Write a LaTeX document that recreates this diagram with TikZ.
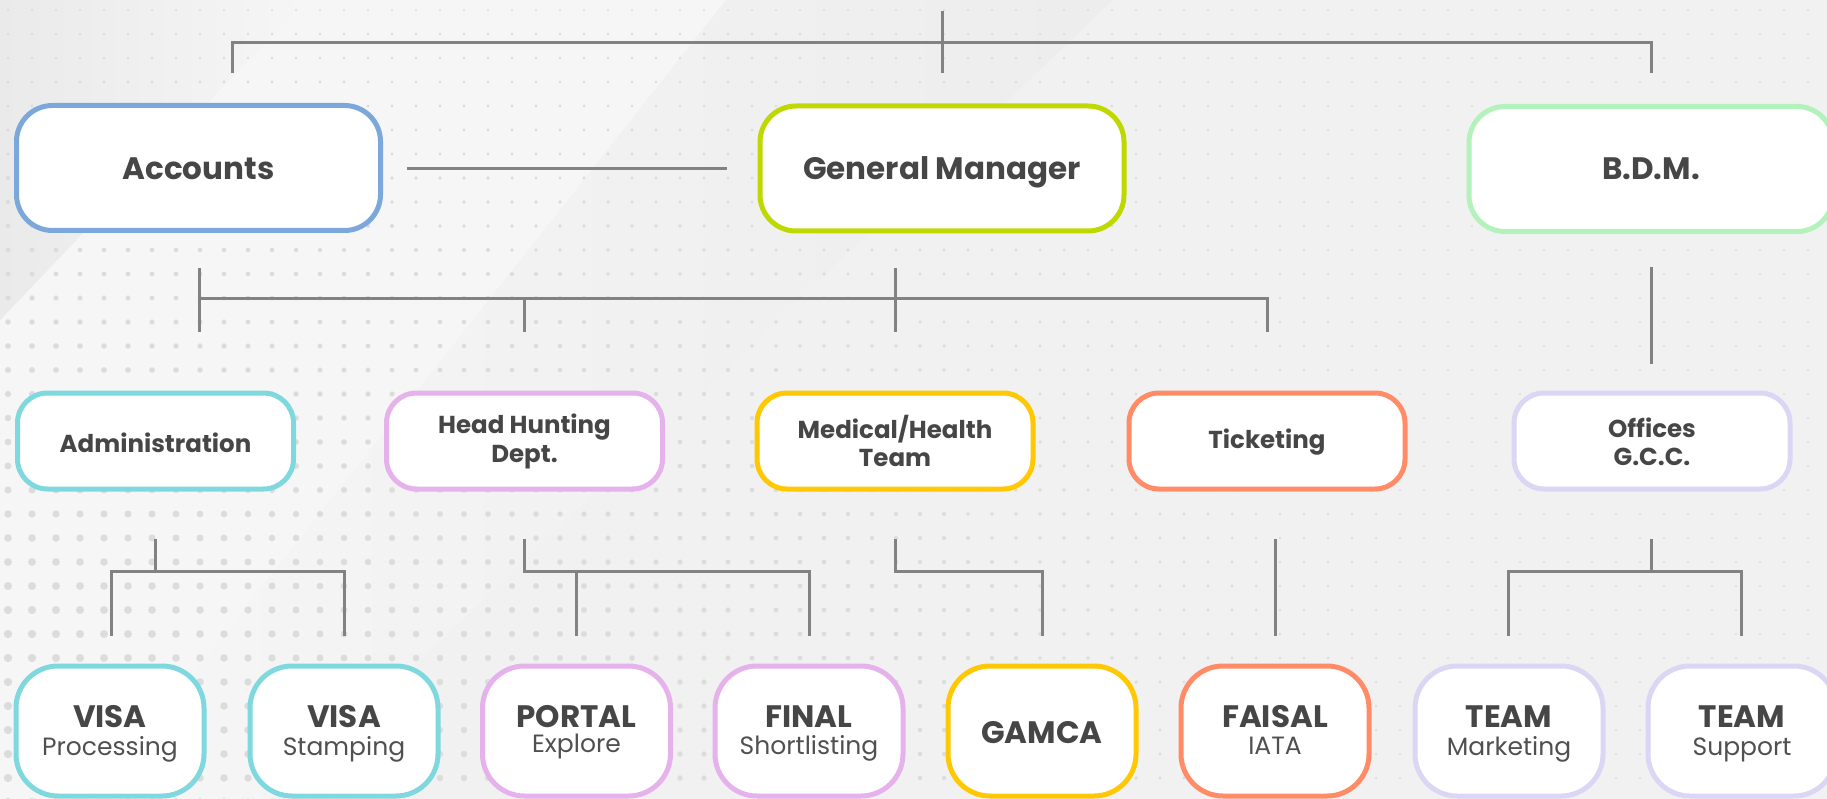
\documentclass[tikz,border=0pt]{standalone}
\usepackage{fontspec}
\setmainfont{Poppins}
\usetikzlibrary{calc}
\definecolor{bgbase}{HTML}{F1F1F1}
\definecolor{bglight}{HTML}{F6F6F6}
\definecolor{bgdark}{HTML}{EAEAEA}
\definecolor{dotc}{HTML}{DCDCDC}
\definecolor{lc}{HTML}{828282}
\definecolor{txt}{HTML}{464646}
\definecolor{subtxt}{HTML}{505050}
\definecolor{cAcc}{HTML}{7BA7DB}
\definecolor{cGM}{HTML}{BFD900}
\definecolor{cBDM}{HTML}{B3F2BA}
\definecolor{cAdm}{HTML}{80D8DF}
\definecolor{cHH}{HTML}{E5B2EB}
\definecolor{cMed}{HTML}{FFC803}
\definecolor{cTic}{HTML}{FF8C66}
\definecolor{cOff}{HTML}{DCD6F5}
\tikzset{
  boxA/.style={draw=#1, fill=white, line width=5pt, rounded corners=36pt,
    minimum width=364pt, minimum height=125pt, inner sep=0pt},
  boxB/.style={draw=#1, fill=white, line width=5pt, rounded corners=30pt,
    minimum width=276pt, minimum height=96pt, inner sep=0pt},
  boxC/.style={draw=#1, fill=white, line width=5pt, rounded corners=42pt,
    minimum width=188pt, minimum height=130pt, inner sep=0pt},
  ttlA/.style={anchor=base, inner sep=0pt, text=txt, font=\bfseries\fontsize{31}{36}\selectfont},
  ttlB/.style={anchor=base, inner sep=0pt, text=txt, font=\bfseries\fontsize{24.5}{30}\selectfont},
  subC/.style={anchor=base, inner sep=0pt, text=subtxt, font=\fontsize{25}{29}\selectfont},
  conn/.style={draw=lc, line width=3pt}
}
\begin{document}
\begin{tikzpicture}[x=1pt,y=-1pt]
\useasboundingbox (0,0) rectangle (1827,799);
\begin{scope}
\clip (0,0) rectangle (1827,799);
% background
\fill[bgbase] (0,0) rectangle (1827,799);
\fill[bglight] (306,0) -- (726,0) -- (95,799) -- (0,799) -- (0,320) -- cycle;
\shade[left color=bgdark, right color=bglight] (0,0) -- (306,0) -- (0,320) -- cycle;
\shade[left color=bglight, right color=bgdark!60!bgbase] (726,0) -- (1113,0) -- (274,799) -- (95,799) -- cycle;
% dots
\foreach \i in {0,...,76}{
  \foreach \j in {0,...,33}{
    \pgfmathsetmacro\xx{8+24*\i}
    \pgfmathsetmacro\yy{10+24*\j}
    \pgfmathsetmacro\rr{1.2+3.0*min(1,1.3*\yy/799)*max(0,1-\xx/1400)}
    \fill[dotc] (\xx,\yy) circle[radius=\rr];
  }
}
\end{scope}

% ---------- level 1 ----------
\node[boxA=cAcc] (acc) at (198.5,168) {};
\node[boxA=cGM]  (gm)  at (942,168.5) {};
\node[boxA=cBDM] (bdm) at (1651,169) {};
\node[ttlA] (acct) at (198.5,180) {Accounts};
\node[ttlA] (gmt)  at (942,180) {General Manager};
\node[ttlA] (bdmt) at (1651,180) {B.D.M.};

% ---------- level 2 ----------
\node[boxB=cAdm] (adm) at (155.5,441) {};
\node[boxB=cHH]  (hh)  at (524.5,441) {};
\node[boxB=cMed] (med) at (895,441) {};
\node[boxB=cTic] (tic) at (1267,441) {};
\node[boxB=cOff] (off) at (1652,441) {};
\node[ttlB] (admt)  at (155.5,452) {Administration};
\node[ttlB] (hht1)  at (524.5,433) {Head Hunting};
\node[ttlB] (hht2)  at (524.5,462) {Dept.};
\node[ttlB] (medt1) at (895,438) {Medical/Health};
\node[ttlB] (medt2) at (895,466) {Team};
\node[ttlB] (tict)  at (1267,448) {Ticketing};
\node[ttlB] (offt1) at (1652,437) {Offices};
\node[ttlB] (offt2) at (1652,465) {G.C.C.};

% ---------- level 3 ----------
\node[boxC=cAdm] (vp) at (110,731) {};
\node[boxC=cAdm] (vs) at (344,731) {};
\node[boxC=cHH]  (pe) at (576.5,731) {};
\node[boxC=cHH]  (fs) at (809,731) {};
\node[boxC=cMed] (ga) at (1042,731) {};
\node[boxC=cTic] (fi) at (1275,731) {};
\node[boxC=cOff] (tm) at (1509,731) {};
\node[boxC=cOff] (ts) at (1742,731) {};
\node[ttlA] (vpt1) at (110,727) {VISA};
\node[subC] (vpt2) at (110,755) {Processing};
\node[ttlA] (vst1) at (344,727) {VISA};
\node[subC] (vst2) at (344,755) {Stamping};
\node[ttlA] (pet1) at (576.5,727) {PORTAL};
\node[subC] (pet2) at (576.5,752) {Explore};
\node[ttlA] (fst1) at (809,727) {FINAL};
\node[subC] (fst2) at (809,754) {Shortlisting};
\node[ttlA] (gat)  at (1042,743) {GAMCA};
\node[ttlA] (fit1) at (1275,727) {FAISAL};
\node[subC] (fit2) at (1275,754) {IATA};
\node[ttlA] (tmt1) at (1509,727) {TEAM};
\node[subC] (tmt2) at (1509,755) {Marketing};
\node[ttlA] (tst1) at (1742,727) {TEAM};
\node[subC] (tst2) at (1742,755) {Support};

% ---------- connector coordinates ----------
\coordinate (t0) at (942,11);
\coordinate (t1) at (942,73);
\coordinate (tl) at (232,73);
\coordinate (tla) at (232,43);
\coordinate (tra) at (1651,43);
\coordinate (tr) at (1651,73);
\coordinate (h0) at (407,169);
\coordinate (h1) at (727,169);
\coordinate (a0) at (199,268);
\coordinate (a1) at (199,332);
\coordinate (a2) at (199,299);
\coordinate (a3) at (1267,299);
\coordinate (a4) at (1267,332);
\coordinate (b0) at (524.5,299);
\coordinate (b1) at (524.5,332);
\coordinate (g0) at (895,268);
\coordinate (g1) at (895,332);
\coordinate (d0) at (1651,267);
\coordinate (d1) at (1651,364);
% level 2 -> 3
\coordinate (p0) at (155,539);
\coordinate (p1) at (155,571);
\coordinate (p2) at (111,636);
\coordinate (p3) at (111,571);
\coordinate (p4) at (344,571);
\coordinate (p5) at (344,636);
\coordinate (q0) at (524.5,539);
\coordinate (q1) at (524.5,571);
\coordinate (q2) at (809,571);
\coordinate (q3) at (809,636);
\coordinate (q4) at (576.5,571);
\coordinate (q5) at (576.5,636);
\coordinate (m0) at (895,539);
\coordinate (m1) at (895,571);
\coordinate (m2) at (1042,571);
\coordinate (m3) at (1042,636);
\coordinate (k0) at (1275,539);
\coordinate (k1) at (1275,636);
\coordinate (o0) at (1651,539);
\coordinate (o1) at (1651,571);
\coordinate (o2) at (1508,636);
\coordinate (o3) at (1508,571);
\coordinate (o4) at (1741,571);
\coordinate (o5) at (1741,636);

% ---------- connectors ----------
\draw[conn] (t0) -- (t1);
\draw[conn] (tl) -- (tla) -- (tra) -- (tr);
\draw[conn] (h0) -- (h1);
\draw[conn] (a0) -- (a1);
\draw[conn] (a2) -- (a3) -- (a4);
\draw[conn] (b0) -- (b1);
\draw[conn] (g0) -- (g1);
\draw[conn] (d0) -- (d1);
\draw[conn] (p0) -- (p1);
\draw[conn] (p2) -- (p3) -- (p4) -- (p5);
\draw[conn] (q0) -- (q1) -- (q2) -- (q3);
\draw[conn] (q4) -- (q5);
\draw[conn] (m0) -- (m1) -- (m2) -- (m3);
\draw[conn] (k0) -- (k1);
\draw[conn] (o0) -- (o1);
\draw[conn] (o2) -- (o3) -- (o4) -- (o5);
\end{tikzpicture}
\end{document}
